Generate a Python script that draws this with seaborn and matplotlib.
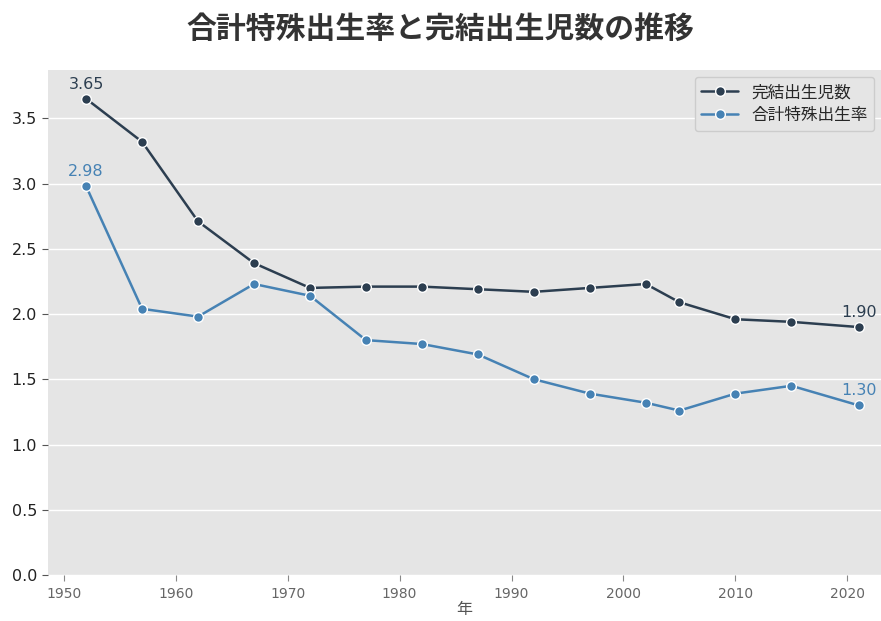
import numpy as np
import pandas as pd
import seaborn as sns
import matplotlib.pyplot as plt

### Data
years = [1952, 1957, 1962, 1967, 1972, 1977, 1982, 1987, 1992, 1997, 2002, 2005, 2010, 2015, 2021]
completed = [3.65, 3.32, 2.71, 2.39, 2.20, 2.21, 2.21, 2.19, 2.17, 2.20, 2.23, 2.09, 1.96, 1.94, 1.90]
tfr = [2.98, 2.04, 1.98, 2.23, 2.14, 1.80, 1.77, 1.69, 1.50, 1.39, 1.32, 1.26, 1.39, 1.45, 1.30]
series_names = ['完結出生児数', '合計特殊出生率']
series_colors = ['#2c3e50', '#4682b4']

df = pd.DataFrame({'年': years * 2,
                   '値': completed + tfr,
                   '系列': [series_names[0]] * len(years) + [series_names[1]] * len(years)})

### Style
sns.set_style("darkgrid", {"axes.facecolor": "#e5e5e5", "grid.color": "white"})
plt.rcParams['font.family'] = ['DejaVu Sans', 'Noto Sans CJK JP']

fig = plt.figure(figsize=(8.81, 6.21), dpi=100)
ax = fig.add_axes([48 / 881, 46 / 621, 833 / 881, 505 / 621])

sns.lineplot(data=df, x='年', y='値', hue='系列', palette=dict(zip(series_names, series_colors)),
             marker='o', markersize=7, markeredgecolor='white', markeredgewidth=1,
             linewidth=1.8, ax=ax)

### Annotate first and last points
for vals, col in zip([completed, tfr], series_colors):
    for i in [0, -1]:
        ax.annotate(f'{vals[i]:.2f}', (years[i], vals[i]), xytext=(0, 5), textcoords='offset points',
                    ha='center', va='bottom', color=col, fontsize=11.5)

ax.set_xlim(1948.6, 2023.0)
ax.set_ylim(0, 3.87)
ax.set_yticks(np.arange(0, 3.51, 0.5))
ax.set_xticks(np.arange(1950, 2021, 10))
ax.grid(axis='x', visible=False)
ax.grid(axis='y', color='white', linewidth=1)
for s in ax.spines.values():
    s.set_visible(False)

ax.tick_params(axis='y', length=4, color='#555555', labelsize=11.5, labelcolor='#222222', pad=4)
ax.tick_params(axis='x', length=4, color='#888888', labelsize=10, labelcolor='#666666', pad=5, direction='out')
ax.xaxis.set_tick_params(which='major', bottom=True)
ax.yaxis.set_tick_params(which='major', left=True)
ax.set_xlabel('年', fontsize=11.5, color='#555555', labelpad=0)
ax.xaxis.set_label_coords(0.5, -0.054)
ax.set_ylabel('')

leg = ax.legend(title=None, loc='upper right', fontsize=12, frameon=True,
                facecolor='#e5e5e5', edgecolor='#cccccc', borderaxespad=0.4, handlelength=2.2,
                labelspacing=0.3)
leg.get_frame().set_alpha(1)

fig.suptitle('合計特殊出生率と完結出生児数の推移', fontsize=21.5, fontweight='bold', color='#333333',
             y=0.977, family=['Noto Sans CJK JP'])

plt.savefig('out.png', dpi=100)
